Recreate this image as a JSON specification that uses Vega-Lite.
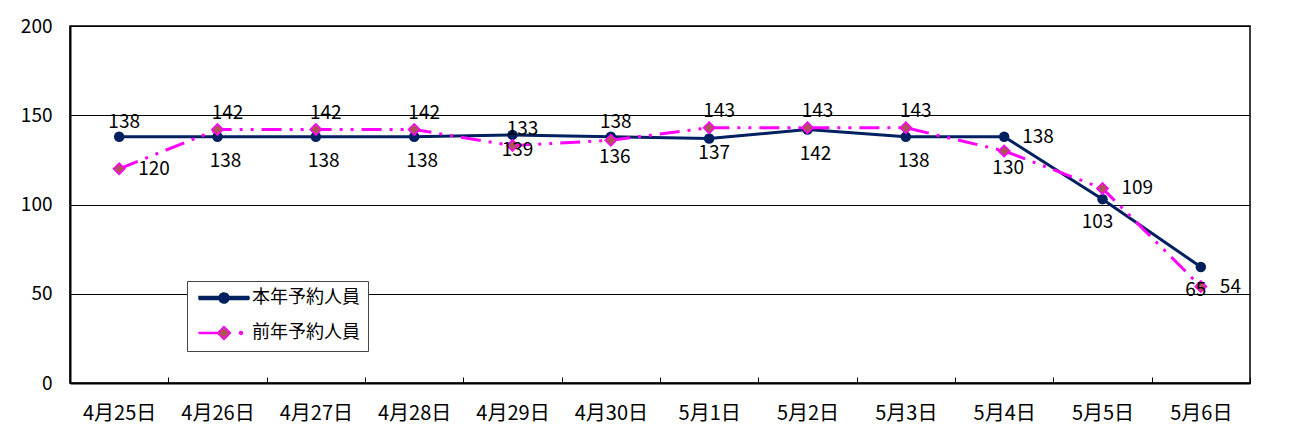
{
  "$schema": "https://vega.github.io/schema/vega-lite/v6.json",
  "width": 1180,
  "height": 357,
  "autosize": "none",
  "padding": {"left": 70, "top": 26, "right": 42, "bottom": 49},
  "background": "white",
  "config": {
    "font": "Noto Sans CJK JP",
    "view": {"stroke": "#000", "strokeWidth": 1.5},
    "text": {"font": "Noto Sans CJK JP", "fontSize": 19, "color": "#000", "baseline": "middle"}
  },
  "datasets": {
    "main": [
      {"date": "4月25日", "series": "本年予約人員", "value": 138},
      {"date": "4月26日", "series": "本年予約人員", "value": 138},
      {"date": "4月27日", "series": "本年予約人員", "value": 138},
      {"date": "4月28日", "series": "本年予約人員", "value": 138},
      {"date": "4月29日", "series": "本年予約人員", "value": 139},
      {"date": "4月30日", "series": "本年予約人員", "value": 138},
      {"date": "5月1日", "series": "本年予約人員", "value": 137},
      {"date": "5月2日", "series": "本年予約人員", "value": 142},
      {"date": "5月3日", "series": "本年予約人員", "value": 138},
      {"date": "5月4日", "series": "本年予約人員", "value": 138},
      {"date": "5月5日", "series": "本年予約人員", "value": 103},
      {"date": "5月6日", "series": "本年予約人員", "value": 65},
      {"date": "4月25日", "series": "前年予約人員", "value": 120},
      {"date": "4月26日", "series": "前年予約人員", "value": 142},
      {"date": "4月27日", "series": "前年予約人員", "value": 142},
      {"date": "4月28日", "series": "前年予約人員", "value": 142},
      {"date": "4月29日", "series": "前年予約人員", "value": 133},
      {"date": "4月30日", "series": "前年予約人員", "value": 136},
      {"date": "5月1日", "series": "前年予約人員", "value": 143},
      {"date": "5月2日", "series": "前年予約人員", "value": 143},
      {"date": "5月3日", "series": "前年予約人員", "value": 143},
      {"date": "5月4日", "series": "前年予約人員", "value": 130},
      {"date": "5月5日", "series": "前年予約人員", "value": 109},
      {"date": "5月6日", "series": "前年予約人員", "value": 54}
    ]
  },
  "data": {"name": "main"},
  "encoding": {
    "x": {
      "field": "date", "type": "nominal", "sort": null,
      "scale": {"type": "band", "paddingInner": 0, "paddingOuter": 0},
      "axis": {
        "title": null, "labelAngle": 0, "tickBand": "extent", "tickSize": -6,
        "tickColor": "#000", "tickWidth": 1, "domainColor": "#000", "domainWidth": 2,
        "labelFontSize": 20, "labelColor": "#000", "labelPadding": 26, "grid": false
      }
    },
    "y": {
      "field": "value", "type": "quantitative",
      "scale": {"domain": [0, 200], "nice": false, "zero": true},
      "axis": {
        "title": null, "values": [0, 50, 100, 150, 200], "ticks": false,
        "grid": true, "gridColor": "#000", "gridWidth": 1,
        "domainColor": "#000", "domainWidth": 2,
        "labelFontSize": 19, "labelColor": "#000", "labelPadding": 18
      }
    }
  },
  "layer": [
    {
      "transform": [{"filter": "datum.series === '本年予約人員'"}],
      "mark": {"type": "line", "strokeWidth": 3},
      "encoding": {
        "color": {
          "field": "series", "type": "nominal",
          "scale": {"domain": ["本年予約人員", "前年予約人員"], "range": ["#002060", "#ff00ff"]},
          "legend": {
            "title": null, "orient": "none", "legendX": 117, "legendY": 255,
            "strokeColor": "#444", "fillColor": "white", "padding": 8,
            "symbolSize": 100, "labelOffset": 39, "rowPadding": 16,
            "labelFontSize": 18, "labelColor": "#000", "labelFont": "Noto Sans CJK JP",
            "encode": {
              "symbols": {
                "update": {
                  "shape": {"signal": "datum.value === '本年予約人員' ? 'M-1,-0.3H9V0.3H-1Z M5,0A1,1 0 1,1 3,0A1,1 0 1,1 5,0Z' : 'M-1,-0.1H2.7V0.1H-1Z M4,-1.3L5.3,0L4,1.3L2.7,0Z M7.7,0A0.3,0.3 0 1,1 7.1,0A0.3,0.3 0 1,1 7.7,0Z'"},
                  "fill": {"signal": "datum.value === '本年予約人員' ? '#002060' : '#b4505a'"},
                  "stroke": {"signal": "datum.value === '本年予約人員' ? '#002060' : '#ff00ff'"},
                  "strokeWidth": {"value": 1.5},
                  "strokeDash": {"value": [1, 0]},
                  "opacity": {"value": 1}
                }
              }
            }
          }
        }
      }
    },
    {
      "transform": [{"filter": "datum.series === '本年予約人員'"}],
      "mark": {"type": "point", "shape": "circle", "filled": true, "size": 110, "color": "#002060", "opacity": 1}
    },
    {
      "transform": [{"filter": "datum.series === '前年予約人員'"}],
      "mark": {"type": "line", "strokeWidth": 3, "strokeDash": [20, 8, 3, 8, 3, 8]},
      "encoding": {
        "color": {"field": "series", "type": "nominal"}
      }
    },
    {
      "transform": [{"filter": "datum.series === '前年予約人員'"}],
      "mark": {"type": "point", "shape": "diamond", "filled": true, "size": 130, "fill": "#b4505a", "stroke": "#ff00ff", "strokeWidth": 1.5, "opacity": 1}
    },
    {
      "transform": [{"filter": "datum.series === '前年予約人員' && indexof(['4月26日','4月27日','4月28日','4月29日','5月1日','5月2日','5月3日'], datum.date) >= 0"}],
      "mark": {"type": "text", "dx": 10, "dy": -17},
      "encoding": {"text": {"field": "value", "type": "quantitative"}}
    },
    {
      "transform": [{"filter": "datum.series === '前年予約人員' && indexof(['4月30日','5月4日'], datum.date) >= 0"}],
      "mark": {"type": "text", "dx": 4, "dy": 17},
      "encoding": {"text": {"field": "value", "type": "quantitative"}}
    },
    {
      "transform": [{"filter": "datum.series === '前年予約人員' && indexof(['4月25日','5月5日','5月6日'], datum.date) >= 0"}],
      "mark": {"type": "text", "align": "left", "dx": 19, "dy": 0},
      "encoding": {"text": {"field": "value", "type": "quantitative"}}
    },
    {
      "transform": [{"filter": "datum.series === '本年予約人員' && indexof(['4月25日','4月30日'], datum.date) >= 0"}],
      "mark": {"type": "text", "dx": 5, "dy": -15},
      "encoding": {"text": {"field": "value", "type": "quantitative"}}
    },
    {
      "transform": [{"filter": "datum.series === '本年予約人員' && indexof(['5月4日'], datum.date) >= 0"}],
      "mark": {"type": "text", "align": "left", "dx": 18, "dy": 0},
      "encoding": {"text": {"field": "value", "type": "quantitative"}}
    },
    {
      "transform": [{"filter": "datum.series === '本年予約人員' && indexof(['4月29日','5月1日'], datum.date) >= 0"}],
      "mark": {"type": "text", "dx": 5, "dy": 15},
      "encoding": {"text": {"field": "value", "type": "quantitative"}}
    },
    {
      "transform": [{"filter": "datum.series === '本年予約人員' && indexof(['4月26日','4月27日','4月28日','5月2日','5月3日'], datum.date) >= 0"}],
      "mark": {"type": "text", "dx": 8, "dy": 24},
      "encoding": {"text": {"field": "value", "type": "quantitative"}}
    },
    {
      "transform": [{"filter": "datum.series === '本年予約人員' && indexof(['5月5日','5月6日'], datum.date) >= 0"}],
      "mark": {"type": "text", "dx": -5, "dy": 23},
      "encoding": {"text": {"field": "value", "type": "quantitative"}}
    }
  ]
}
